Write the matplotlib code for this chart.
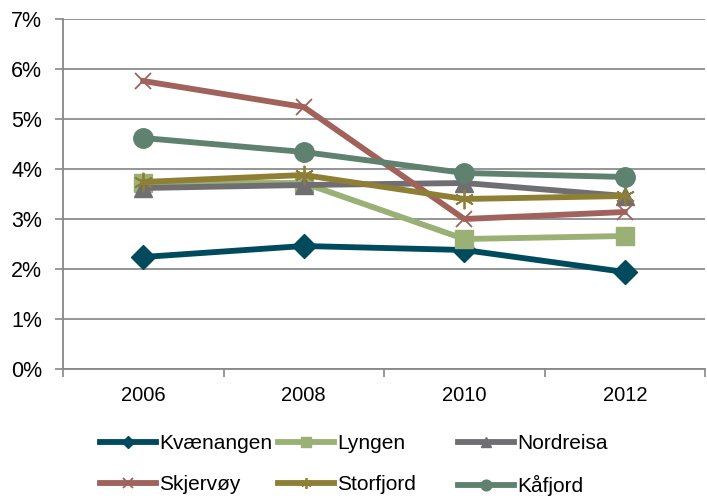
import matplotlib.pyplot as plt

plt.rcParams['font.family'] = ['Liberation Sans', 'DejaVu Sans']

years = ['2006', '2008', '2010', '2012']
kvaenangen = [2.24, 2.46, 2.38, 1.94]
lyngen = [3.72, 3.72, 2.60, 2.66]
nordreisa = [3.62, 3.68, 3.72, 3.46]
skjervoy = [5.76, 5.24, 3.00, 3.14]
storfjord = [3.74, 3.88, 3.40, 3.46]
kafjord = [4.62, 4.34, 3.92, 3.84]

series = [
    ('Kvænangen', kvaenangen, '#004a5e', 'D', 12, 1.0),
    ('Lyngen', lyngen, '#9bb074', 's', 13.5, 1.0),
    ('Nordreisa', nordreisa, '#6f6e73', '^', 13, 1.0),
    ('Skjervøy', skjervoy, '#a0625a', 'x', 12, 1.3),
    ('Storfjord', storfjord, '#8e7f35', (6, 2, 0), 14, 1.3),
    ('Kåfjord', kafjord, '#5f8170', 'o', 14, 1.0),
]

fig = plt.figure(figsize=(7.07, 4.98), dpi=100)
ax = fig.add_axes([63 / 707, 1 - 369 / 498, 642 / 707, 350 / 498])

x = range(len(years))
handles = []
for name, vals, col, mk, ms, mew in series:
    h, = ax.plot(x, vals, color=col, lw=4.2, marker=mk, ms=ms, mew=mew,
                 mfc=col, mec=col, label=name)
    handles.append(h)

ax.set_ylim(0, 7)
ax.set_xlim(-0.5, 3.5)
ax.set_yticks(range(8))
ax.set_yticklabels([f'{i}%' for i in range(8)])
ax.set_xticks(x)
ax.set_xticklabels(years)
ax.set_xticks([-0.5, 0.5, 1.5, 2.5, 3.5], minor=True)
ax.tick_params(axis='x', which='major', length=0, pad=12, labelsize=14.5)
ax.tick_params(axis='x', which='minor', length=6, direction='out', color='#888888', width=1.2)
ax.tick_params(axis='y', length=6, direction='out', color='#888888', width=1.2,
               labelsize=15.5, pad=9)
ax.grid(axis='y', color='#8c8c8c', lw=1.3)
ax.set_axisbelow(True)
for s in ['top', 'right']:
    ax.spines[s].set_visible(False)
for s in ['left', 'bottom']:
    ax.spines[s].set_color('#888888')
    ax.spines[s].set_linewidth(1.3)

# legend laid out row by row in three fixed columns
col_x = [100, 278, 458]
for i, cx in enumerate(col_x):
    fig.legend(handles=[handles[i], handles[i + 3]], loc='upper left',
               bbox_to_anchor=(cx / 707, 1 - 434 / 498), frameon=False,
               fontsize=15, handlelength=2.7, handletextpad=0.15,
               labelspacing=1.05, markerscale=0.55, borderpad=0, borderaxespad=0)

plt.savefig('out.png')
